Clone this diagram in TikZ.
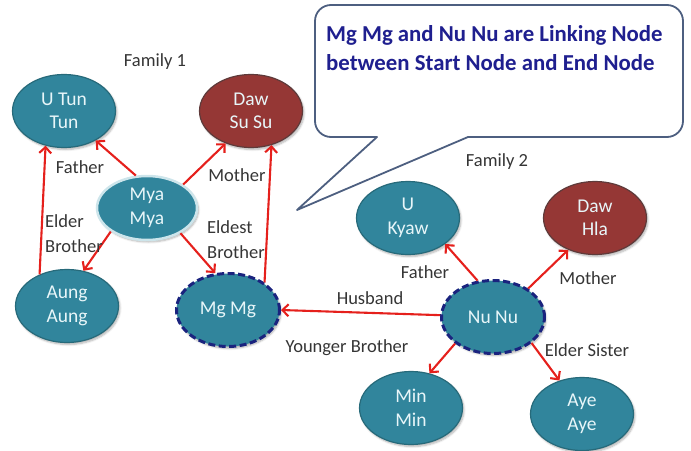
\documentclass[tikz,border=0pt]{standalone}
\usepackage{fontspec}
\setmainfont{Carlito}
\usetikzlibrary{shapes.geometric,arrows.meta,shadows.blur}

\definecolor{tealfill}{HTML}{31859C}
\definecolor{tealedge}{HTML}{276A7A}
\definecolor{winefill}{HTML}{953735}
\definecolor{wineedge}{HTML}{5E3A3A}
\definecolor{nodetext}{HTML}{E8F6F9}
\definecolor{linknavy}{HTML}{1A237E}
\definecolor{relred}{HTML}{E5201C}
\definecolor{labelgray}{HTML}{353535}
\definecolor{calloutedge}{HTML}{4D5F80}
\definecolor{callouttext}{HTML}{1F1F8F}

\begin{document}
\begin{tikzpicture}[x=1pt,y=-1pt,
  person/.style={ellipse, minimum width=103pt, minimum height=73pt, inner sep=0pt,
    align=center, text=nodetext, font=\fontsize{19.5}{23.5}\selectfont,
    blur shadow={shadow xshift=1.5pt, shadow yshift=-2pt, shadow blur steps=6, shadow opacity=30}},
  male/.style={person, fill=tealfill, draw=tealedge, line width=1.2pt},
  female/.style={person, fill=winefill, draw=wineedge, line width=1.2pt},
  linknode/.style={male, draw=linknavy, line width=3pt, dash pattern=on 7pt off 3.5pt},
  rel/.style={draw=relred, line width=2.1pt, -{Straight Barb[length=6pt,width=12pt]}},
  lbl/.style={text=labelgray, font=\fontsize{18.5}{25}\selectfont, inner sep=0pt},
  callout/.style={draw=calloutedge, line width=1.8pt, fill=white, line join=round}
]
\useasboundingbox (0,0) rectangle (691,450);

% speech bubble with its pointer
\draw[callout] (297,210) -- (377,137) -- (331,137)
  arc[start angle=270, end angle=180, radius=16pt] -- (315,21)
  arc[start angle=180, end angle=90, radius=16pt] -- (667,5)
  arc[start angle=90, end angle=0, radius=16pt] -- (683,121)
  arc[start angle=0, end angle=-90, radius=16pt] -- (468,137) -- cycle;
\node[anchor=west, align=left, inner sep=0pt, text=callouttext,
  font=\bfseries\fontsize{22.8}{29}\selectfont] (note) at (326,48)
  {Mg Mg and Nu Nu are Linking Node\\between Start Node and End Node};

% family 1
\node[male]   (utun)  at (64,111)  {U Tun\\Tun};
\node[female] (dawsu) at (251,111) {Daw\\Su Su};
\node[male, minimum width=100pt, minimum height=64pt, draw=nodetext!85!tealfill, line width=2.5pt]
              (mya)   at (147,208) {Mya\\Mya};
\node[male]   (aung)  at (67,306)  {Aung\\Aung};
\node[linknode] (mgmg) at (228,310) {Mg Mg};

% family 2
\node[male]   (ukyaw) at (408,218) {U\\Kyaw};
\node[female] (dawhla) at (595,218) {Daw\\Hla};
\node[linknode] (nunu) at (493,317) {Nu Nu};
\node[male]   (minmin) at (411,408) {Min\\Min};
\node[male]   (ayeaye) at (582,414) {Aye\\Aye};

% relations
\draw[rel] (mya.109) -- (utun.317);
\draw[rel] (mya.33)  -- (dawsu.232);
\draw[rel] (mya.213) -- (aung.65);
\draw[rel] (mya.323) -- (mgmg.109);
\draw[rel] (aung.131) -- (utun.242);
\draw[rel] (mgmg.37) -- (dawsu.301);
\draw[rel] (nunu.178) -- (mgmg.0);
\draw[rel] (nunu.113) -- (ukyaw.325);
\draw[rel] (nunu.39)  -- (dawhla.230);
\draw[rel] (nunu.215) -- (minmin.62);
\draw[rel] (nunu.326) -- (ayeaye.124);

% labels
\node[lbl] (fam1) at (155,62) {Family 1};
\node[lbl] (f1father) at (80,167) {Father};
\node[lbl] (f1mother) at (237,175) {Mother};
\node[lbl, anchor=west, align=left] (f1elder) at (45,234) {Elder\\Brother};
\node[lbl, anchor=west, align=left] (f1eldest) at (207,240) {Eldest\\Brother};
\node[lbl] (fam2) at (497,162) {Family 2};
\node[lbl] (f2father) at (425,272) {Father};
\node[lbl] (f2mother) at (588,278) {Mother};
\node[lbl] (husband) at (370,298) {Husband};
\node[lbl] (younger) at (347,348) {Younger Brother};
\node[lbl] (sister) at (587,350) {Elder Sister};
\end{tikzpicture}
\end{document}
